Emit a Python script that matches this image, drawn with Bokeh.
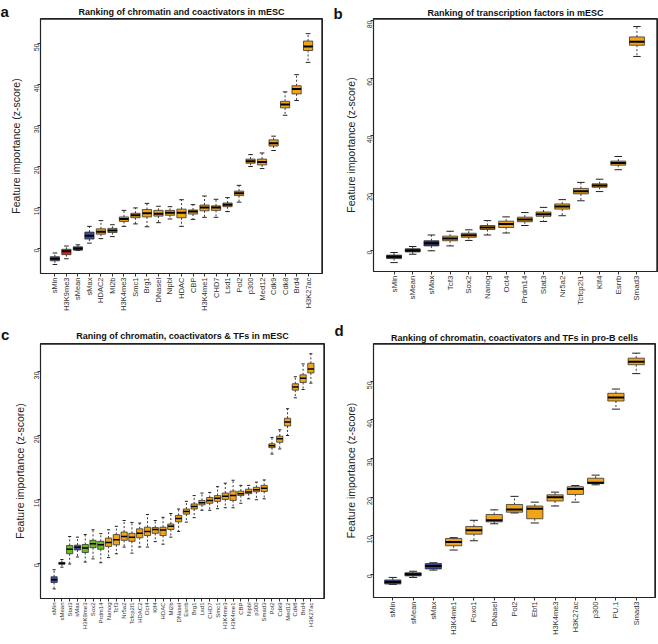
import math
from bokeh.plotting import figure
from bokeh.models import FactorRange, Range1d, FixedTicker, Title, ColumnDataSource
from bokeh.transform import dodge
from bokeh.layouts import gridplot
from bokeh.embed import file_html
from bokeh.resources import INLINE

FONT = "Liberation Sans"
YLABEL = "Feature importance (z-score)"

# ---------------- Panel a ----------------
a_title = "Ranking of chromatin and coactivators in mESC"
a_names = ["sMin", "H3K9me3", "sMean", "sMax", "HDAC2", "Mi2b", "H3K4me3", "Smc1", "Brg1",
           "DNaseI", "Nipbl", "HDAC", "CBP", "H3K4me1", "CHD7", "Lsd1", "Pol2", "p300",
           "Med12", "Cdk9", "Cdk8", "Brd4", "H3K27ac"]
a_groups = ["s", "r", "s", "s"] + ["o"] * 19
a_lo = [-3.9, -2.5, -0.5, 1.3, 2.4, 2.9, 5.4, 6.0, 5.3, 6.3, 7.2, 5.4, 7.1, 7.6, 7.6, 9.0, 11.3,
        20.0, 19.5, 23.9, 32.5, 36.1, 45.4]
a_q1 = [-3.0, -1.5, -0.4, 2.3, 3.5, 3.9, 6.6, 7.5, 7.7, 7.9, 8.1, 7.5, 8.4, 9.2, 9.3, 10.2, 12.9,
        20.8, 20.4, 25.0, 34.3, 37.7, 48.3]
a_med = [-2.5, -0.7, 0.0, 3.1, 4.1, 4.4, 7.2, 8.1, 8.6, 8.5, 8.7, 8.7, 9.0, 10.0, 10.0, 10.7, 13.5,
         21.3, 21.1, 25.7, 35.1, 38.9, 49.3]
a_q3 = [-2.0, -0.2, 0.4, 4.0, 4.8, 4.9, 7.7, 8.6, 9.5, 9.3, 9.3, 9.6, 9.4, 10.6, 10.4, 11.1, 14.0,
        21.8, 21.8, 26.5, 35.9, 39.7, 50.6]
a_hi = [-1.1, 0.6, 0.9, 5.4, 6.8, 5.8, 9.3, 9.9, 11.0, 10.3, 10.2, 11.9, 10.7, 12.8, 12.0, 12.4, 15.4,
        22.9, 23.3, 27.4, 38.2, 42.4, 52.4]
a_yticks = [0, 10, 20, 30, 40, 50]

# ---------------- Panel b ----------------
b_title = "Ranking of transcription factors in mESC"
b_names = ["sMin", "sMean", "sMax", "Tcf3", "Sox2", "Nanog", "Oct4", "Prdm14", "Stat3", "Nr5a2",
           "Tcfcp2l1", "Klf4", "Esrrb", "Smad3"]
b_groups = ["s", "s", "s"] + ["o"] * 11
b_lo = [-4.2, -1.3, -0.1, 1.6, 3.5, 5.4, 6.1, 8.7, 10.1, 12.1, 17.3, 20.5, 28.1, 67.5]
b_q1 = [-2.8, -0.5, 1.6, 3.4, 4.6, 7.3, 8.0, 10.0, 11.9, 14.4, 19.7, 22.0, 29.7, 71.4]
b_med = [-2.2, 0.0, 2.5, 4.2, 5.3, 8.0, 9.2, 10.8, 12.6, 15.3, 20.6, 22.6, 30.4, 72.6]
b_q3 = [-1.6, 0.6, 3.4, 5.0, 6.0, 8.7, 10.2, 11.6, 13.4, 16.2, 21.6, 23.2, 31.1, 74.3]
b_hi = [-0.7, 1.4, 5.4, 6.7, 7.2, 10.4, 11.7, 13.2, 15.0, 17.7, 23.7, 24.8, 32.7, 77.9]
b_yticks = [0, 20, 40, 60, 80]

# ---------------- Panel c ----------------
c_title = "Raning of chromatin, coactivators & TFs in mESC"
c_names = ["sMin", "sMean", "Stat3", "sMax", "H3K9me3", "Sox2", "Prdm14", "Nanog", "Tcf3", "Nr5a2",
           "Tcfcp2l1", "HDAC2", "Oct4", "Klf4", "HDAC", "Mi2b", "DNaseI", "Esrrb", "Brg1", "Lsd1",
           "CHD7", "Smc1", "H3K4me3", "H3K4me1", "CBP", "Nipbl", "p300", "Smad3", "Pol2", "Cdk9",
           "Med12", "Cdk8", "Brd4", "H3K27ac"]
c_groups = ["s", "k", "g", "s", "g", "g", "g"] + ["o"] * 27
c_lo = [-4.0, -0.6, -0.1, 1.0, 0.2, 0.7, 0.1, 0.9, 1.5, 2.55, 1.6, 2.55, 2.55, 3.4, 3.0, 4.1, 5.0,
        6.45, 7.15, 8.3, 8.3, 8.55, 8.7, 8.7, 9.4, 10.1, 9.95, 10.1, 17.1, 17.9, 20.0, 25.9, 27.2, 28.2]
c_q1 = [-3.0, -0.15, 1.5, 2.1, 1.7, 2.45, 2.2, 2.65, 2.9, 3.6, 3.45, 4.0, 4.35, 4.7, 4.35, 5.3, 6.5,
        7.7, 8.5, 9.15, 9.4, 9.7, 10.0, 9.85, 10.6, 10.9, 11.2, 11.25, 18.1, 18.95, 21.5, 27.1, 28.3, 29.8]
c_med = [-2.55, 0.0, 2.2, 2.5, 2.4, 3.05, 2.9, 3.25, 3.7, 4.2, 4.1, 4.7, 5.0, 5.3, 5.2, 5.8, 7.0,
         8.1, 8.9, 9.5, 9.85, 10.2, 10.5, 10.6, 10.9, 11.15, 11.5, 11.75, 18.4, 19.5, 22.1, 27.6, 28.95, 30.4]
c_q3 = [-2.1, 0.15, 2.8, 2.85, 2.95, 3.6, 3.45, 3.95, 4.5, 4.9, 4.7, 5.4, 5.65, 5.6, 5.65, 6.15, 7.5,
        8.5, 9.3, 9.85, 10.3, 10.6, 11.0, 11.3, 11.3, 11.6, 11.9, 12.2, 18.7, 19.9, 22.7, 28.1, 29.5, 31.3]
c_hi = [-1.0, 0.6, 4.2, 4.1, 4.5, 5.25, 4.65, 5.25, 5.8, 6.7, 6.4, 6.3, 7.65, 6.7, 7.2, 7.8, 8.5,
        9.7, 10.6, 11.0, 11.1, 12.0, 12.55, 13.0, 12.2, 12.2, 12.7, 13.05, 19.7, 20.9, 24.2, 29.2, 31.2, 32.8]
c_yticks = [0, 10, 20, 30]

# ---------------- Panel d ----------------
d_title = "Ranking of chromatin, coactivators and TFs in pro-B cells"
d_names = ["sMin", "sMean", "sMax", "H3K4me1", "Foxo1", "DNaseI", "Pol2", "Ebf1", "H3K4me3",
           "H3K27ac", "p300", "PU.1", "Smad3"]
d_groups = ["s", "s", "s"] + ["o"] * 10
d_lo = [-2.6, -0.8, 1.1, 6.3, 8.7, 13.1, 15.9, 13.3, 17.7, 18.7, 23.2, 42.8, 52.0]
d_q1 = [-2.5, -0.4, 1.4, 7.4, 10.4, 13.6, 16.1, 14.4, 19.0, 20.7, 23.5, 44.9, 54.3]
d_med = [-2.0, 0.0, 2.15, 8.4, 11.4, 14.0, 16.8, 17.0, 20.0, 22.1, 23.7, 45.8, 55.1]
d_q3 = [-1.45, 0.4, 2.8, 9.3, 12.4, 15.5, 18.1, 17.7, 20.6, 22.7, 24.9, 46.9, 56.0]
d_hi = [-0.8, 0.8, 3.0, 9.5, 14.0, 16.7, 20.2, 18.7, 21.3, 23.0, 25.7, 48.0, 57.3]
d_yticks = [0, 10, 20, 30, 40, 50]

FRAME = "#222222"


def make_panel(names, lo, q1, med, q3, hi, groups, palette, y_start, y_end, yticks,
               pad, fw, fh, bl, br, bt, bb, title, tstand, letter, loff, lstand,
               xfs, med_w, lab_stand):
    src = ColumnDataSource(dict(name=names, lo=lo, q1=q1, med=med, q3=q3, hi=hi,
                                color=[palette[g] for g in groups]))
    p = figure(x_range=FactorRange(factors=names, range_padding=pad, range_padding_units="absolute"),
               y_range=Range1d(y_start, y_end), frame_width=fw, frame_height=fh,
               min_border_left=bl, min_border_right=br, min_border_top=bt, min_border_bottom=bb,
               output_backend="svg", toolbar_location=None, tools="")
    p.xgrid.visible = False
    p.ygrid.visible = False
    p.outline_line_color = FRAME
    p.outline_line_width = 1

    # panel letter (outer title row, collapsed and pulled down beside the title)
    p.title.text = letter
    p.title.align = "left"
    p.title.offset = loff
    p.title.text_font = FONT
    p.title.text_font_size = "15px"
    p.title.text_font_style = "bold"
    p.title.text_color = "#111111"
    p.title.standoff = lstand
    # panel title (row next to the frame)
    p.add_layout(Title(text=title, align="center", text_font=FONT, text_font_size="9px",
                       text_font_style="bold", text_color="#111111", standoff=tstand), "above")

    wcol = "#3a3a3a"
    p.segment(x0="name", y0="q3", x1="name", y1="hi", source=src, line_color=wcol,
              line_dash="2 2", line_width=1)
    p.segment(x0="name", y0="q1", x1="name", y1="lo", source=src, line_color=wcol,
              line_dash="2 2", line_width=1)
    p.segment(x0=dodge("name", -0.2, range=p.x_range), y0="hi",
              x1=dodge("name", 0.2, range=p.x_range), y1="hi", source=src,
              line_color="#222222", line_width=1)
    p.segment(x0=dodge("name", -0.2, range=p.x_range), y0="lo",
              x1=dodge("name", 0.2, range=p.x_range), y1="lo", source=src,
              line_color="#222222", line_width=1)
    p.vbar(x="name", width=0.8, bottom="q1", top="q3", source=src, fill_color="color",
           line_color="#333333", line_width=0.8)
    p.segment(x0=dodge("name", -0.4, range=p.x_range), y0="med",
              x1=dodge("name", 0.4, range=p.x_range), y1="med", source=src,
              line_color="black", line_width=med_w)

    # top and right edges of the frame box (half of each line falls inside the frame)
    p.hspan(y=[y_end], line_color=FRAME, line_width=2.4)
    p.vspan(x=[len(names) + pad], line_color=FRAME, line_width=2.4)

    p.yaxis.ticker = FixedTicker(ticks=yticks)
    p.yaxis.axis_label = YLABEL
    p.yaxis.axis_label_text_font = FONT
    p.yaxis.axis_label_text_font_style = "normal"
    p.yaxis.axis_label_text_font_size = "10.5px"
    p.yaxis.axis_label_text_color = "#222222"
    p.yaxis.axis_label_standoff = lab_stand
    p.yaxis.major_label_orientation = math.pi / 2
    p.yaxis.major_label_text_font_size = "7px"
    p.xaxis.major_label_orientation = math.pi / 2
    p.xaxis.major_label_text_font_size = xfs
    for ax in (p.xaxis[0], p.yaxis[0]):
        ax.axis_line_color = FRAME
        ax.axis_line_width = 1.2
        ax.major_tick_line_color = "#333333"
        ax.major_tick_out = 3
        ax.major_tick_in = 0
        ax.minor_tick_line_color = None
        ax.major_label_standoff = 1
        ax.major_label_text_font = FONT
        ax.major_label_text_color = "#333333"
    return p


pal_a = {"s": "#3D4A9A", "r": "#D42A20", "o": "#F2A419"}
pal_b = {"s": "#2D3170", "o": "#F2A419"}
pal_c = {"s": "#3D4A9A", "k": "#22264A", "g": "#6DBA1E", "o": "#F2A419"}
pal_d = {"s": "#38428F", "o": "#F2A419"}

pa = make_panel(a_names, a_lo, a_q1, a_med, a_q3, a_hi, a_groups, pal_a, -6.1, 56.1, a_yticks,
                0.75, 282, 255, 40, 8, 18, 47, a_title, 3.6, "a", -40, -34.2, "7.5px", 2, 7)
pb = make_panel(b_names, b_lo, b_q1, b_med, b_q3, b_hi, b_groups, pal_b, -7.3, 80.7, b_yticks,
                0.6, 284, 253, 42, 2, 16, 51, b_title, 1.6, "b", -40, -34.2, "8px", 2, 5)
pc = make_panel(c_names, c_lo, c_q1, c_med, c_q3, c_hi, c_groups, pal_c, -5.5, 34.4, c_yticks,
                1.25, 284, 255, 40, 6, 23, 46, c_title, 6, "c", -39.5, -34, "6px", 1.5, 3)
pd_ = make_panel(d_names, d_lo, d_q1, d_med, d_q3, d_hi, d_groups, pal_d, -6.0, 59.8, d_yticks,
                 0.45, 282, 254, 43, 3, 23, 47, d_title, 1, "d", -39, -16, "7.5px", 2, 5)

grid = gridplot([[pa, pb], [pc, pd_]], toolbar_location=None)
open("out.html", "w").write(file_html(grid, INLINE))
